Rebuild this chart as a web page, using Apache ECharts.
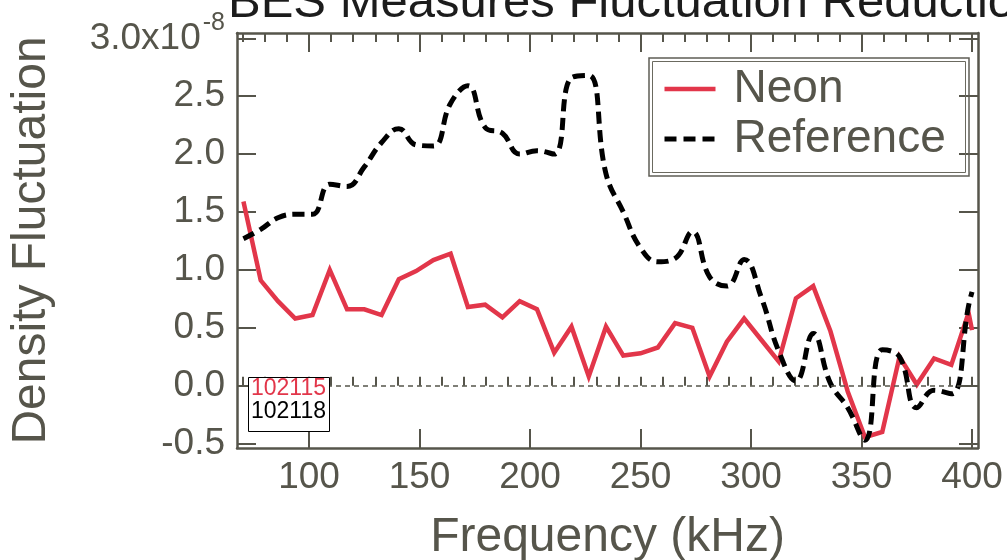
<!DOCTYPE html>
<html>
<head>
<meta charset="utf-8">
<script src="https://cdn.jsdelivr.net/npm/echarts@6/dist/echarts.min.js"></script>
<style>
html,body{margin:0;padding:0;background:#ffffff;}
#chart{width:1007px;height:560px;}
</style>
</head>
<body>
<div id="chart"></div>
<script>
// ---- data (values in units of 1e-8) ----
const frequencies = [70.3125, 78.125, 85.9375, 93.75, 101.5625, 109.375, 117.1875, 125, 132.8125, 140.625,
  148.4375, 156.25, 164.0625, 171.875, 179.6875, 187.5, 195.3125, 203.125, 210.9375, 218.75,
  226.5625, 234.375, 242.1875, 250, 257.8125, 265.625, 273.4375, 281.25, 289.0625, 296.875,
  304.6875, 312.5, 320.3125, 328.125, 335.9375, 343.75, 351.5625, 359.375, 367.1875, 375,
  382.8125, 390.625, 398.4375, 400];
const neonValues = [1.59, 0.91, 0.73, 0.58, 0.61, 1.00, 0.66, 0.66, 0.61, 0.92,
  0.99, 1.085, 1.14, 0.68, 0.70, 0.59, 0.73, 0.66, 0.285, 0.51,
  0.08, 0.51, 0.26, 0.28, 0.33, 0.54, 0.50, 0.08, 0.38, 0.58,
  0.395, 0.21, 0.755, 0.86, 0.47, -0.05, -0.445, -0.40, 0.25, 0.01,
  0.235, 0.18, 0.63, 0.48];
const referenceValues = [1.27, 1.35, 1.45, 1.48, 1.48, 1.74, 1.72, 1.89, 2.10, 2.22,
  2.08, 2.07, 2.44, 2.59, 2.23, 2.18, 2.00, 2.03, 2.00, 2.66,
  2.68, 1.83, 1.50, 1.19, 1.07, 1.10, 1.33, 0.94, 0.86, 1.09,
  0.76, 0.30, 0.04, 0.45, 0.02, -0.19, -0.47, 0.31, 0.25, -0.19,
  -0.04, -0.07, 0.69, 0.81];
const seriesNames = ['Neon', 'Reference'];
const shotNumbers = ['102115', '102118'];
const xMajorTicks = [100, 150, 200, 250, 300, 350, 400];
const xMinorTicks = [70, 80, 90, 100, 110, 120, 130, 140, 150, 160, 170, 180, 190, 200, 210, 220, 230, 240,
  250, 260, 270, 280, 290, 300, 310, 320, 330, 340, 350, 360, 370, 380, 390, 400];
const yTicks = [-0.5, 0, 0.5, 1.0, 1.5, 2.0, 2.5, 3.0];
const titleText = 'BES Measures Fluctuation Reduction';
const xTitle = 'Frequency (kHz)';
const yTitle = 'Density Fluctuation';

// ---- styles ----
const FONT = 'Liberation Sans, Arial, Helvetica, sans-serif';
const INK = '#56554b';
const RED = '#e2364a';
const X_MIN = 67.4, X_MAX = 402.7, Y_MIN = -0.538, Y_MAX = 3.046;
const GRID = {left: 237, top: 33, width: 741, height: 415, containLabel: false, outerBoundsMode: 'none'};
const NEON_LINE = {color: RED, width: 4.5, type: 'solid'};
const REF_LINE = {color: '#000000', width: 5, type: [12, 6.5], cap: 'butt'};

const pairs = (vals) => frequencies.map((f, i) => [f, vals[i]]);

function frameXAxis(pos, grid, ticks, len, extra) {
  return Object.assign({
    type: 'value', gridIndex: grid, position: pos, min: X_MIN, max: X_MAX,
    axisLine: {show: true, onZero: false, lineStyle: {color: INK, width: 2.5}},
    axisTick: {show: true, inside: true, length: len, customValues: ticks, lineStyle: {color: INK, width: 2}},
    axisLabel: {show: false},
    splitLine: {show: false}
  }, extra || {});
}

const chart = echarts.init(document.getElementById('chart'), null, {renderer: 'canvas'});
chart.setOption({
  animation: false,
  backgroundColor: '#ffffff',
  textStyle: {fontFamily: FONT},
  grid: [Object.assign({}, GRID), Object.assign({}, GRID)],
  xAxis: [
    frameXAxis('bottom', 0, xMajorTicks, 19, {
      axisLabel: {show: true, customValues: xMajorTicks, margin: 11, fontSize: 37, color: INK, fontFamily: FONT},
      name: xTitle, nameLocation: 'middle', nameGap: 66,
      nameTextStyle: {fontSize: 48, color: INK, fontFamily: FONT}
    }),
    frameXAxis('top', 0, xMajorTicks, 19),
    frameXAxis('bottom', 1, xMinorTicks, 9, {axisLine: {show: false}}),
    frameXAxis('top', 1, xMinorTicks, 9, {axisLine: {show: false}})
  ],
  yAxis: [
    {
      type: 'value', gridIndex: 0, position: 'left', min: Y_MIN, max: Y_MAX,
      axisLine: {show: true, onZero: false, lineStyle: {color: INK, width: 2.5}},
      axisTick: {show: true, inside: true, length: 19, customValues: yTicks, lineStyle: {color: INK, width: 2}},
      axisLabel: {
        show: true, customValues: yTicks, margin: 12, fontSize: 37, color: INK, fontFamily: FONT,
        formatter: function (v) {
          if (Math.abs(v - 3) < 1e-9) return '{a|3.0x10}{s|-8}';
          return v.toFixed(1);
        },
        rich: {
          a: {fontSize: 37, color: INK, fontFamily: FONT},
          s: {fontSize: 25, color: INK, fontFamily: FONT, padding: [0, 0, 30, 2]}
        }
      },
      splitLine: {show: false},
      name: yTitle, nameLocation: 'middle', nameGap: 181, nameRotate: 90,
      nameTextStyle: {fontSize: 48, color: INK, fontFamily: FONT}
    },
    {
      type: 'value', gridIndex: 0, position: 'right', min: Y_MIN, max: Y_MAX,
      axisLine: {show: true, onZero: false, lineStyle: {color: INK, width: 2.5}},
      axisTick: {show: true, inside: true, length: 19, customValues: yTicks, lineStyle: {color: INK, width: 2}},
      axisLabel: {show: false},
      splitLine: {show: false}
    },
    {
      type: 'value', gridIndex: 1, min: Y_MIN, max: Y_MAX, show: false
    }
  ],
  legend: {
    orient: 'vertical',
    left: 662, top: 64,
    itemGap: 0,
    itemWidth: 51, itemHeight: 14,
    padding: 0,
    itemStyle: {opacity: 0, borderWidth: 0},
    data: [
      {name: seriesNames[0], lineStyle: NEON_LINE},
      {name: seriesNames[1], lineStyle: {color: '#000000', width: 5, type: [12, 7], cap: 'butt'}}
    ],
    textStyle: {fontSize: 46, color: INK, fontFamily: FONT, lineHeight: 50, padding: [0, 0, 0, 13]}
  },
  series: [
    {
      name: seriesNames[0], type: 'line', xAxisIndex: 0, yAxisIndex: 0,
      data: pairs(neonValues),
      symbol: 'none', showSymbol: false,
      lineStyle: Object.assign({join: 'miter'}, NEON_LINE),
      itemStyle: {color: RED},
      z: 3,
      markLine: {
        silent: true, symbol: ['none', 'none'], label: {show: false},
        lineStyle: {color: INK, width: 1.5, type: [5, 4]},
        data: [{yAxis: 0}]
      }
    },
    {
      name: seriesNames[1], type: 'line', xAxisIndex: 0, yAxisIndex: 0,
      data: pairs(referenceValues),
      symbol: 'none', showSymbol: false, smooth: 0.45,
      lineStyle: REF_LINE,
      itemStyle: {color: '#000000'},
      z: 4
    }
  ],
  graphic: [
    {
      type: 'text', left: 228, top: -21, z: 10,
      style: {text: titleText, font: '49px ' + FONT, fill: '#1c1c1c'}
    },
    {
      type: 'rect', z: 5,
      shape: {x: 649, y: 58, width: 320, height: 118},
      style: {fill: 'rgba(255,255,255,0)', stroke: '#5f5e55', lineWidth: 1.5}
    },
    {
      type: 'rect', z: 5,
      shape: {x: 652.5, y: 61.5, width: 313, height: 111},
      style: {fill: 'rgba(255,255,255,0)', stroke: '#6b6a60', lineWidth: 1}
    },
    {
      type: 'rect', z: 20,
      shape: {x: 248.5, y: 377.5, width: 81, height: 54},
      style: {fill: '#ffffff', stroke: '#000000', lineWidth: 1}
    },
    {
      type: 'text', z: 21, x: 251, y: 389,
      style: {text: shotNumbers[0], font: '23px ' + FONT, fill: RED, verticalAlign: 'middle', align: 'left'}
    },
    {
      type: 'text', z: 21, x: 251, y: 412,
      style: {text: shotNumbers[1], font: '23px ' + FONT, fill: '#000000', verticalAlign: 'middle', align: 'left'}
    }
  ]
});
</script>
</body>
</html>
